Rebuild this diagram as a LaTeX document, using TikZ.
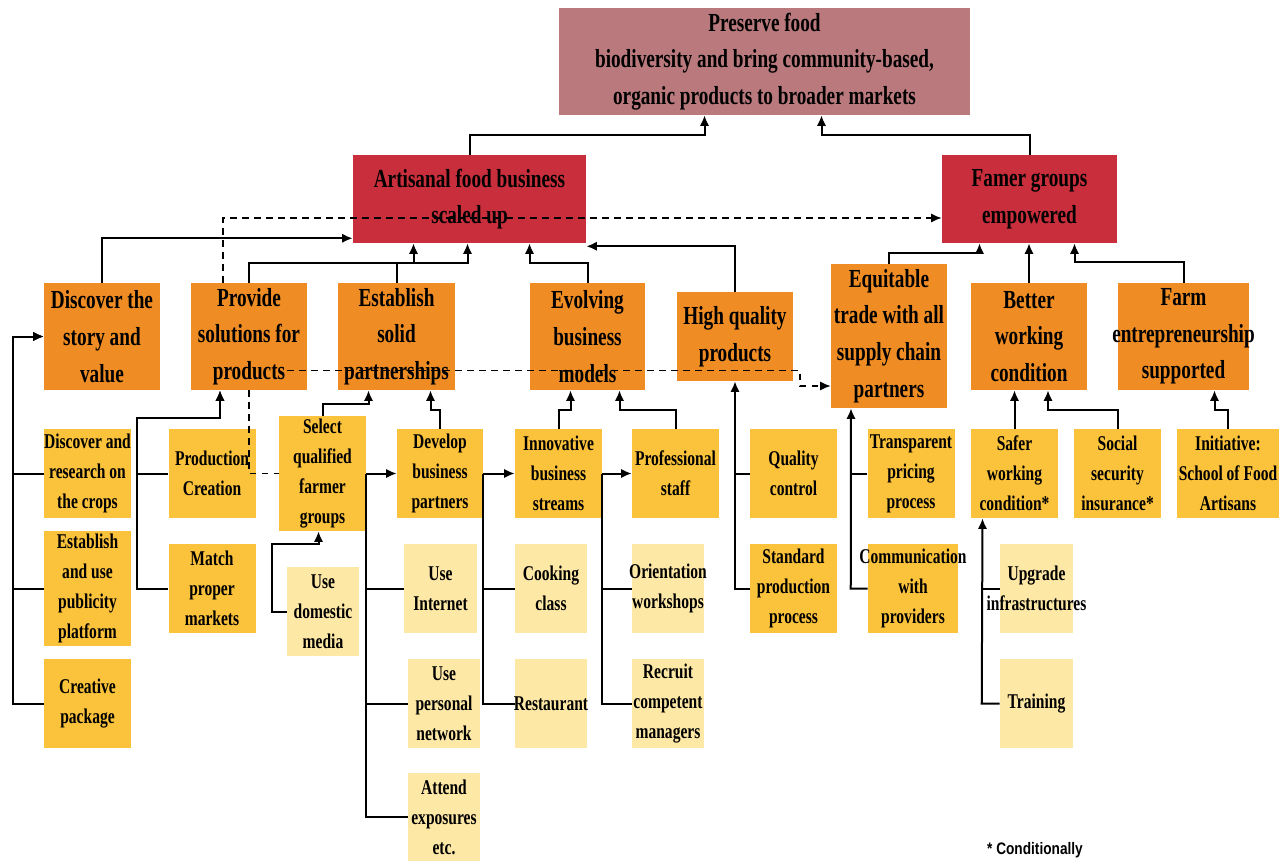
\documentclass[tikz,border=0pt]{standalone}
\usepackage{fontspec}
\setmainfont{Liberation Serif}[FakeStretch=0.74]
\newfontfamily\notefont{Liberation Sans}[FakeStretch=0.82]
\usepackage{tikz}
\usetikzlibrary{arrows.meta}
\definecolor{goalrose}{RGB}{185,121,125}
\definecolor{outred}{RGB}{200,46,59}
\definecolor{midorange}{RGB}{239,141,36}
\definecolor{actyellow}{RGB}{251,194,59}
\definecolor{subyellow}{RGB}{254,232,166}
\def\pxu{0.75pt}

\begin{document}
\begin{tikzpicture}[x=0.75pt,y=-0.75pt,>={Latex[length=8pt,width=7pt]}]
				\tikzstyle{card}=[rectangle,inner sep=0pt,align=center,text=black]
				\tikzstyle{bigtext}=[font=\fontsize{19.5pt}{27.5pt}\selectfont\bfseries]
				\tikzstyle{smalltext}=[font=\fontsize{15.75pt}{22.5pt}\selectfont\bfseries]
				\tikzstyle{goalbox}=[card,bigtext,fill=goalrose]
				\tikzstyle{outbox}=[card,bigtext,fill=outred,minimum height=88*\pxu]
				\tikzstyle{midbox}=[card,bigtext,fill=midorange,minimum width=116*\pxu,minimum height=107*\pxu]
				\tikzstyle{actbox}=[card,smalltext,fill=actyellow,minimum width=87*\pxu,minimum height=89*\pxu]
				\tikzstyle{subbox}=[card,smalltext,fill=subyellow,minimum width=72*\pxu,minimum height=89*\pxu]
				\tikzstyle{link}=[line width=1.5pt]
				\tikzstyle{dlink}=[line width=1.4pt,dash pattern=on 5pt off 4pt]
				\useasboundingbox (0,0) rectangle (1281,861);

				\node[goalbox,minimum width=411*\pxu,minimum height=107*\pxu] (goal) at (764.5,61.5) {Preserve food\\biodiversity and bring community-based,\\organic products to broader markets};
				\node[outbox,minimum width=233*\pxu] (artisan) at (469.5,199) {Artisanal food business\\scaled up};
				\node[outbox,minimum width=175*\pxu] (farmer) at (1029.5,199) {Famer groups\\empowered};

				\node[midbox] (story) at (102,336.5) {Discover the\\story and\\value};
				\node[midbox] (solve) at (249,336.5) {Provide\\solutions for\\products};
				\node[midbox,minimum width=117*\pxu] (partner) at (396.5,336.5) {Establish\\solid\\partnerships};
				\node[midbox,minimum width=115*\pxu] (evolve) at (587.5,336.5) {Evolving\\business\\models};
				\node[midbox,minimum height=89*\pxu] (quality) at (735,336.5) {High quality\\products};
				\node[midbox,minimum height=144*\pxu] (equit) at (889,336) {Equitable\\trade with all\\supply chain\\partners};
				\node[midbox] (better) at (1029,336.5) {Better\\working\\condition};
				\node[midbox,minimum width=131*\pxu] (entre) at (1183.5,336.5) {Farm\\\makebox[0pt]{entrepreneurship}\\supported};

				\node[actbox] (research) at (87.5,473.5) {Discover and\\research on\\the crops};
				\node[actbox,minimum height=115*\pxu] (publicity) at (87.5,588.5) {Establish\\and use\\publicity\\platform};
				\node[actbox] (creative) at (87.5,703.5) {Creative\\package};
				\node[actbox] (produce) at (212,473.5) {Production\\Creation};
				\node[actbox] (match) at (212,588.5) {Match\\proper\\markets};
				\node[actbox,minimum height=115*\pxu] (select) at (322.5,473.5) {Select\\qualified\\farmer\\groups};
				\node[subbox] (domestic) at (323,611.5) {Use\\domestic\\media};
				\node[actbox,minimum width=86*\pxu] (develop) at (440,473.5) {Develop\\business\\partners};
				\node[subbox,minimum width=73*\pxu] (internet) at (440.5,588.5) {Use\\Internet};
				\node[subbox] (personal) at (444,703.5) {Use\\personal\\network};
				\node[subbox,minimum height=88*\pxu] (attend) at (444,817) {Attend\\exposures\\etc.};
				\node[actbox] (innov) at (558.5,473.5) {Innovative\\business\\streams};
				\node[subbox] (cooking) at (551,588.5) {Cooking\\class};
				\node[subbox] (restaurant) at (551,703.5) {\makebox[0pt]{Restaurant}};
				\node[actbox] (staff) at (675.5,473.5) {Professional\\staff};
				\node[subbox] (orient) at (668,588.5) {\makebox[0pt]{Orientation}\\workshops};
				\node[subbox] (recruit) at (668,703.5) {Recruit\\competent\\managers};
				\node[actbox] (qcontrol) at (793.5,473.5) {Quality\\control};
				\node[actbox] (standard) at (793.5,588.5) {Standard\\production\\process};
				\node[actbox] (pricing) at (911,473.5) {Transparent\\pricing\\process};
				\node[actbox,minimum width=90*\pxu] (comm) at (913,588.5) {\makebox[0pt]{Communication}\\with\\providers};
				\node[actbox] (safer) at (1014.5,473.5) {Safer\\working\\condition*};
				\node[actbox] (social) at (1117.5,473.5) {Social\\security\\insurance*};
				\node[actbox,minimum width=102*\pxu] (school) at (1228,473.5) {Initiative:\\School of Food\\Artisans};
				\node[subbox,minimum width=73*\pxu] (upgrade) at (1036.5,588.5) {Upgrade\\\makebox[0pt]{infrastructures}};
				\node[subbox,minimum width=73*\pxu] (training) at (1036.5,703.5) {Training};
				\node[font=\notefont\bfseries\fontsize{12.5pt}{15pt}\selectfont,inner sep=0pt] (note) at (1035,850) {* Conditionally};

				\draw[link,->] (artisan.north) -- ++(0,-20) -| ([xshift=-60*\pxu]goal.south);
				\draw[link,->] (farmer.north) -- ++(0,-20) -| ([xshift=57*\pxu]goal.south);

				\draw[link,->] (story.north) |- ([yshift=5*\pxu]artisan.south west);
				\draw[link,->] (solve.north) -- ++(0,-20) -| ([xshift=-2*\pxu]artisan.south);
				\draw[link,->] (partner.north) -- ++(0,-20) -| ([xshift=-56*\pxu]artisan.south);
				\draw[link,->] (evolve.north) -- ++(0,-20) -| ([xshift=60*\pxu]artisan.south);
				\draw[link,->] (quality.north) |- ([yshift=-3*\pxu]artisan.south east);
				\draw[link,->] (equit.north) -- ++(0,-11) -| ([xshift=-50*\pxu]farmer.south);
				\draw[link,->] (better.north) -- (better.north |- farmer.south);
				\draw[link,->] (entre.north) -- ++(0,-21) -| ([xshift=45*\pxu]farmer.south);

				\draw[dlink,->] ([xshift=-26*\pxu]solve.north) |- ([yshift=-19*\pxu]farmer.west);
				\draw[dlink,->] ([xshift=-20*\pxu,yshift=-34*\pxu]solve.east) -- ++(513,0) |- ([yshift=-50*\pxu]equit.west);
				\draw[dlink] (solve.south) |- (select.west);

				\draw[link,->] (research.west) -- ++(-31,0) |- (story.west);
				\draw[link,->] (publicity.west) -- ++(-31,0) |- (story.west);
				\draw[link,->] (creative.west) -- ++(-31,0) |- (story.west);

				\draw[link,->] (produce.west) -- ++(-31,0) -- ++(0,-56) -| ([xshift=-29*\pxu]solve.south);
				\draw[link,->] (match.west) -- ++(-31,0) -- ++(0,-171) -| ([xshift=-29*\pxu]solve.south);

				\draw[link,->] (select.north) -- ++(0,-12) -| ([xshift=-28*\pxu]partner.south);
				\draw[link,->] (develop.north) -- ++(0,-19) -| ([xshift=34*\pxu]partner.south);
				\draw[link,->] (domestic.west) -- ++(-15,0) -- ++(0,-67.5) -| ([xshift=-4*\pxu]select.south);

				\draw[link,->] (select.east) -- (develop.west);
				\draw[link] (select.east) |- (internet.west);
				\draw[link] (select.east) |- (personal.west);
				\draw[link] (select.east) |- (attend.west);

				\draw[link,->] (develop.east) -- (innov.west);
				\draw[link] (develop.east) |- (cooking.west);
				\draw[link] (develop.east) |- (restaurant.west);

				\draw[link,->] (innov.north) -- ++(0,-19) -| ([xshift=-17*\pxu]evolve.south);
				\draw[link,->] (staff.north) -- ++(0,-19) -| ([xshift=32*\pxu]evolve.south);

				\draw[link,->] (innov.east) -- (staff.west);
				\draw[link] (innov.east) |- (orient.west);
				\draw[link] (innov.east) |- (recruit.west);

				\draw[link,->] (standard.west) -| (quality.south);
				\draw[link] (qcontrol.west) -- (qcontrol.west -| quality.south);

				\draw[link,->] (comm.west) -- ++(-17,0) -- ([xshift=-38*\pxu]equit.south);
				\draw[link] (pricing.west) -- ++(-17,0);

				\draw[link,->] (safer.north) -- (safer.north |- better.south);
				\draw[link,->] (social.north) -- ++(0,-19) -| ([xshift=19*\pxu]better.south);
				\draw[link,->] (school.north) -- ++(0,-19) -| ([xshift=31*\pxu]entre.south);

				\draw[link,->] (training.west) -- ++(-18,0) -- ([xshift=-32*\pxu]safer.south);
				\draw[link] (upgrade.west) -- ++(-18,0);
\end{tikzpicture}
\end{document}
